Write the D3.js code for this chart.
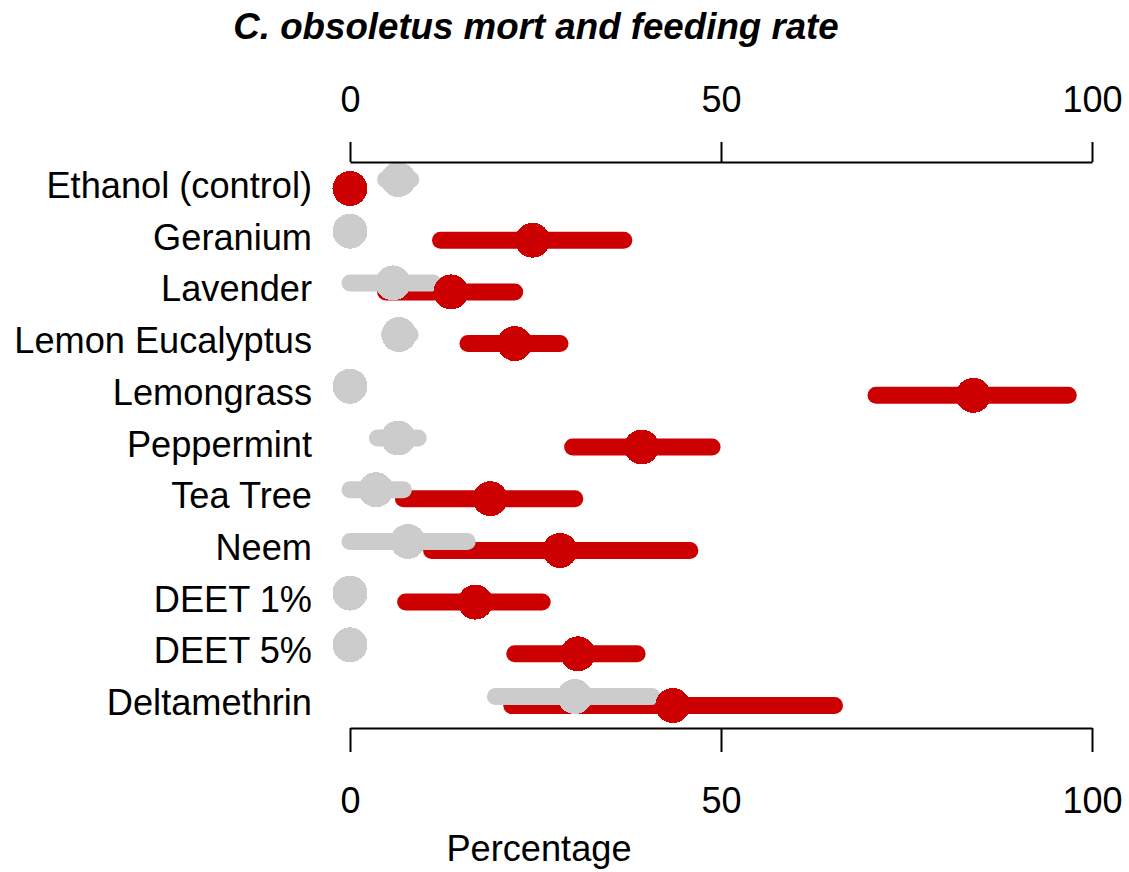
<!DOCTYPE html>
<html>
<head>
<meta charset="utf-8">
<script src="https://cdn.jsdelivr.net/npm/d3@7"></script>
<style>
    html, body { margin: 0; padding: 0; background: #fff; }
    svg text { font-family: "Liberation Sans", Arial, sans-serif; fill: #000; }
</style>
</head>
<body>
<svg id="chart"></svg>
<script>
var categories = ['Ethanol (control)', 'Geranium', 'Lavender', 'Lemon Eucalyptus', 'Lemongrass',
    'Peppermint', 'Tea Tree', 'Neem', 'DEET 1%', 'DEET 5%', 'Deltamethrin'];

// mortality (red)
var mort     = [0,   24.6, 13.6, 22.2, 84.0, 39.3, 18.9, 28.3, 16.9, 30.7, 43.5];
var mortLow  = [0,   12.2,  4.8, 15.9, 70.9, 30.0,  7.2, 11.0,  7.5, 22.2, 21.8];
var mortHigh = [0,   36.9, 22.2, 28.3, 96.8, 48.8, 30.3, 45.8, 25.9, 38.7, 65.3];

// feeding rate (grey)
var feed     = [6.5, 0, 5.8,  6.6, 0, 6.5, 3.5,  7.8, 0, 0, 30.3];
var feedLow  = [4.8, 0, 0,    5.3, 0, 3.7, 0,    0,   0, 0, 19.6];
var feedHigh = [8.2, 0, 11.2, 8.1, 0, 9.2, 7.2, 15.8, 0, 0, 40.7];

var tickValues = [0, 50, 100];

(function () {
    var width = 1129, height = 872;
    var RED = '#cc0000', GREY = '#cccccc';

    var svg = d3.select('#chart').attr('width', width).attr('height', height);

    var x = d3.scaleLinear().domain([0, 100]).range([350, 1092]);
    var y = d3.scalePoint().domain(categories).range([184, 701]);

    function buildRows(vals, lows, highs) {
        return categories.map(function (c, i) {
            return { cat: c, v: vals[i], lo: lows[i], hi: highs[i] };
        });
    }

    var mortRows = buildRows(mort, mortLow, mortHigh);
    var feedRows = buildRows(feed, feedLow, feedHigh);

    function drawBars(rows, dy, color, cls) {
        svg.append('g').attr('class', cls)
            .selectAll('line')
            .data(rows.filter(function (d) { return d.hi > d.lo; }))
            .enter().append('line')
            .attr('x1', function (d) { return x(d.lo); })
            .attr('x2', function (d) { return x(d.hi); })
            .attr('y1', function (d) { return y(d.cat) + dy; })
            .attr('y2', function (d) { return y(d.cat) + dy; })
            .attr('stroke', color)
            .attr('stroke-width', 17)
            .attr('stroke-linecap', 'round');
    }

    function drawPoints(rows, dy, color, cls) {
        svg.append('g').attr('class', cls)
            .selectAll('circle')
            .data(rows)
            .enter().append('circle')
            .attr('cx', function (d) { return x(d.v); })
            .attr('cy', function (d) { return y(d.cat) + dy; })
            .attr('r', 17.5)
            .attr('fill', color)
            .attr('shape-rendering', 'crispEdges');
    }

    drawBars(mortRows, 4.5, RED, 'mort-bars');
    drawBars(feedRows, -4.5, GREY, 'feed-bars');
    drawPoints(feedRows, -4.5, GREY, 'feed-points');
    drawPoints(mortRows, 4.5, RED, 'mort-points');

    // category labels
    svg.append('g').selectAll('text')
        .data(categories)
        .enter().append('text')
        .attr('x', 312)
        .attr('y', function (d) { return y(d) + 14; })
        .attr('text-anchor', 'end')
        .style('font-size', '36.2px')
        .text(function (d) { return d; });

    function styleAxis(g) {
        g.select('.domain').attr('stroke', '#000').attr('stroke-width', 2);
        g.selectAll('.tick line').attr('stroke', '#000').attr('stroke-width', 2);
        g.selectAll('.tick text')
            .style('font-family', '"Liberation Sans", Arial, sans-serif')
            .style('font-size', '36px')
            .attr('fill', '#000');
    }

    var topAxis = d3.axisTop(x).tickValues(tickValues).tickSize(20).tickSizeOuter(0).tickPadding(30);
    svg.append('g').attr('transform', 'translate(0,162)').call(topAxis).call(styleAxis);

    var bottomAxis = d3.axisBottom(x).tickValues(tickValues).tickSize(24).tickSizeOuter(0).tickPadding(35);
    svg.append('g').attr('transform', 'translate(0,728)').call(bottomAxis).call(styleAxis);

    svg.append('text')
        .attr('x', 536)
        .attr('y', 39)
        .attr('text-anchor', 'middle')
        .style('font-size', '36.7px')
        .style('font-weight', 'bold')
        .style('font-style', 'italic')
        .text('C. obsoletus mort and feeding rate');

    svg.append('text')
        .attr('x', 539)
        .attr('y', 861)
        .attr('text-anchor', 'middle')
        .style('font-size', '36.2px')
        .text('Percentage');
})();
</script>
</body>
</html>
